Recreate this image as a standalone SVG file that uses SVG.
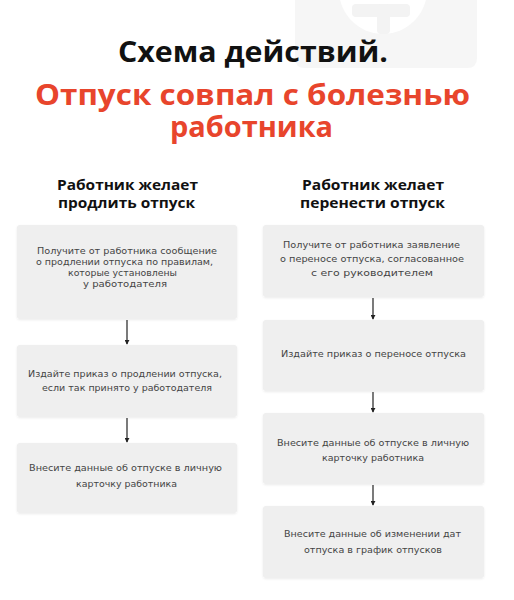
<svg xmlns="http://www.w3.org/2000/svg" width="514" height="600" viewBox="0 0 514 600">
<style>
.title{font-family:"Open Sans","Liberation Sans",sans-serif;font-weight:700;text-anchor:middle;font-size:28px}
.head{font-family:"Open Sans","Liberation Sans",sans-serif;font-weight:700;font-size:15px;fill:#111;text-anchor:middle}
.box{fill:#efefef;filter:url(#sh)}
.t{font-family:"DejaVu Sans","Liberation Sans",sans-serif;font-size:9px;fill:#444;text-anchor:middle}
.c{stroke:#333;stroke-width:1.3;fill:none;marker-end:url(#ah)}
</style>
<defs>
<filter id="sh" x="-5%" y="-5%" width="110%" height="115%">
<feDropShadow dx="0" dy="1" stdDeviation="1" flood-color="#000" flood-opacity="0.08"/>
</filter>
<marker id="ah" viewBox="0 0 6 6" refX="5" refY="3" markerWidth="5" markerHeight="5" orient="auto" markerUnits="userSpaceOnUse">
<path d="M0,0 L6,3 L0,6 Z" fill="#222"/>
</marker>
</defs>
<rect width="514" height="600" fill="#fff"/>
<g id="watermark">
<path d="M295,0 H477 V58 Q477,68 467,68 H305 Q295,68 295,58 Z" fill="#f6f6f6"/>
<circle cx="383" cy="-10" r="44" fill="#fff"/>
<rect x="352" y="4" width="58" height="13" rx="4" fill="#f3f3f3"/>
<rect x="377" y="4" width="13" height="30" rx="4" fill="#f3f3f3"/>
</g>
<g id="title">
<text class="title" x="253" y="62" fill="#111" textLength="270" lengthAdjust="spacingAndGlyphs">Схема действий.</text>
<text class="title" x="252.5" y="105" fill="#e8452c" textLength="435" lengthAdjust="spacingAndGlyphs">Отпуск совпал с болезнью</text>
<text class="title" x="251.5" y="137" fill="#e8452c" textLength="163" lengthAdjust="spacingAndGlyphs">работника</text>
</g>
<g id="head-left">
<text class="head" x="127.5" y="190" textLength="141" lengthAdjust="spacingAndGlyphs">Работник желает</text>
<text class="head" x="126.5" y="208" textLength="137" lengthAdjust="spacingAndGlyphs">продлить отпуск</text>
</g>
<g id="head-right">
<text class="head" x="373" y="190" textLength="142" lengthAdjust="spacingAndGlyphs">Работник желает</text>
<text class="head" x="372.5" y="208" textLength="145" lengthAdjust="spacingAndGlyphs">перенести отпуск</text>
</g>
<g id="L1"><rect class="box" x="17" y="225" width="220" height="94" rx="3"/>
<text class="t" x="127" y="254" textLength="180" lengthAdjust="spacingAndGlyphs">Получите от работника сообщение</text>
<text class="t" x="124.5" y="265" textLength="177" lengthAdjust="spacingAndGlyphs">о продлении отпуска по правилам,</text>
<text class="t" x="122.5" y="276" textLength="109" lengthAdjust="spacingAndGlyphs">которые установлены</text>
<text class="t" x="125" y="287" textLength="84" lengthAdjust="spacingAndGlyphs">у работодателя</text></g>
<g id="L2"><rect class="box" x="17" y="345" width="220" height="72" rx="3"/>
<text class="t" x="125" y="377" textLength="194" lengthAdjust="spacingAndGlyphs">Издайте приказ о продлении отпуска,</text>
<text class="t" x="127" y="391" textLength="170" lengthAdjust="spacingAndGlyphs">если так принято у работодателя</text></g>
<g id="L3"><rect class="box" x="17" y="443" width="220" height="70" rx="3"/>
<text class="t" x="125.5" y="471" textLength="193" lengthAdjust="spacingAndGlyphs">Внесите данные об отпуске в личную</text>
<text class="t" x="126.5" y="487" textLength="101" lengthAdjust="spacingAndGlyphs">карточку работника</text></g>
<g id="R1"><rect class="box" x="263" y="225" width="221" height="72" rx="3"/>
<text class="t" x="371.5" y="248" textLength="177" lengthAdjust="spacingAndGlyphs">Получите от работника заявление</text>
<text class="t" x="372" y="262" textLength="184" lengthAdjust="spacingAndGlyphs">о переносе отпуска, согласованное</text>
<text class="t" x="372" y="276" textLength="122" lengthAdjust="spacingAndGlyphs">с его руководителем</text></g>
<g id="R2"><rect class="box" x="263" y="320" width="221" height="71" rx="3"/>
<text class="t" x="373.5" y="357" textLength="185" lengthAdjust="spacingAndGlyphs">Издайте приказ о переносе отпуска</text></g>
<g id="R3"><rect class="box" x="263" y="413" width="221" height="71" rx="3"/>
<text class="t" x="373" y="446" textLength="192" lengthAdjust="spacingAndGlyphs">Внесите данные об отпуске в личную</text>
<text class="t" x="373" y="461" textLength="102" lengthAdjust="spacingAndGlyphs">карточку работника</text></g>
<g id="R4"><rect class="box" x="263" y="506" width="221" height="72" rx="3"/>
<text class="t" x="372.5" y="537" textLength="177" lengthAdjust="spacingAndGlyphs">Внесите данные об изменении дат</text>
<text class="t" x="373" y="553" textLength="138" lengthAdjust="spacingAndGlyphs">отпуска в график отпусков</text></g>
<g id="connectors">
<line class="c" x1="127" y1="320" x2="127" y2="344"/>
<line class="c" x1="127" y1="418" x2="127" y2="442"/>
<line class="c" x1="373" y1="298" x2="373" y2="319"/>
<line class="c" x1="373" y1="392" x2="373" y2="412"/>
<line class="c" x1="373" y1="485" x2="373" y2="505"/>
</g>
</svg>
